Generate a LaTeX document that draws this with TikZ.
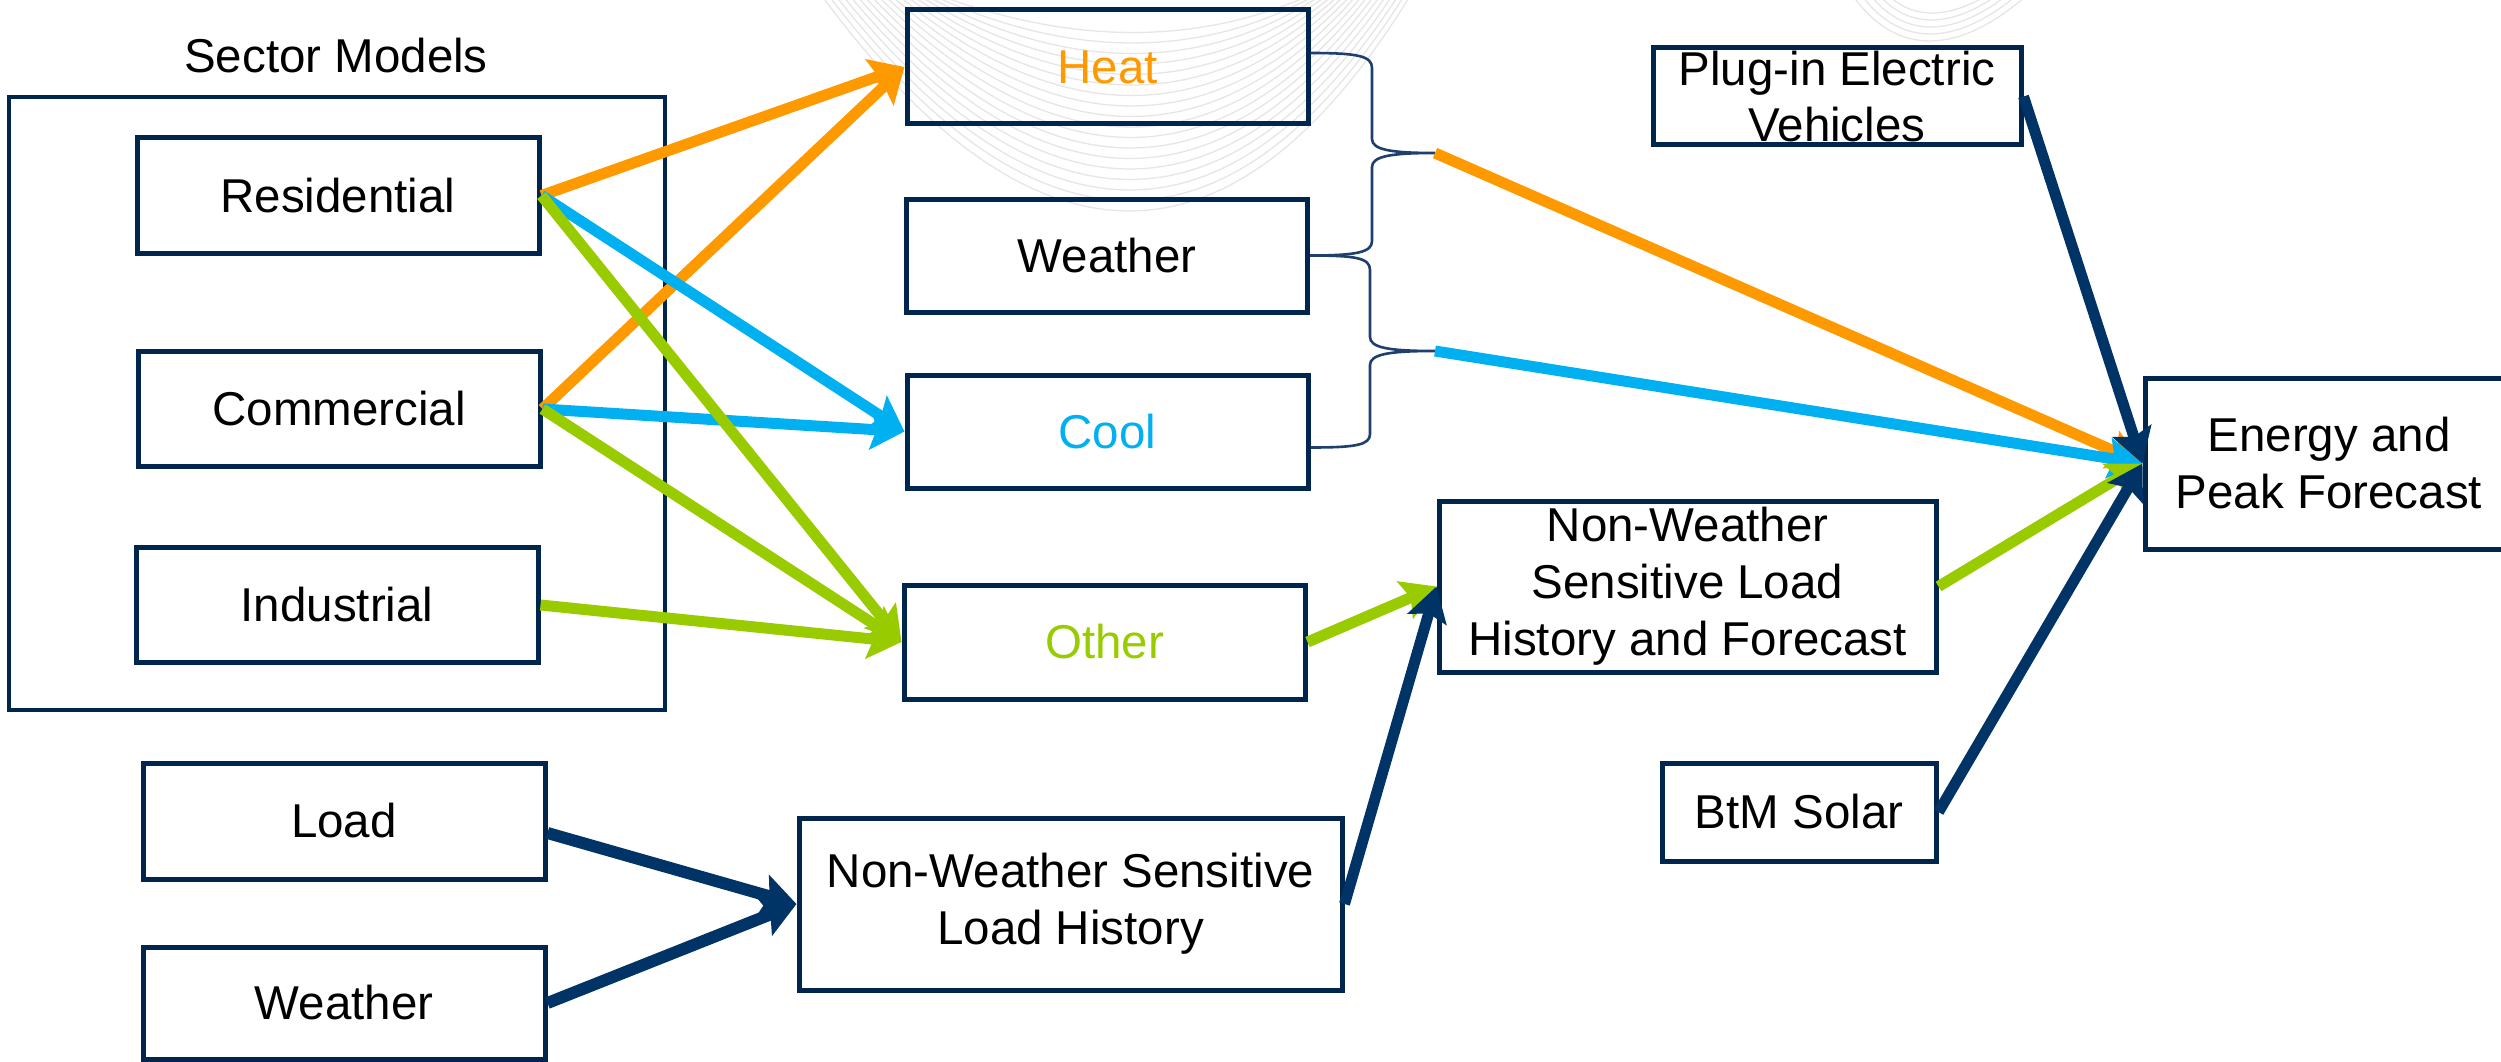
\documentclass[tikz,border=0pt]{standalone}
\usepackage{fontspec}
\setmainfont{Liberation Sans}
\usetikzlibrary{arrows.meta,calc}

\definecolor{boxnavy}{HTML}{00264D}
\definecolor{arrnavy}{HTML}{003366}
\definecolor{bracenavy}{HTML}{1F3F6E}
\definecolor{heatorange}{HTML}{FF9900}
\definecolor{coolcyan}{HTML}{00B0F0}
\definecolor{othergreen}{HTML}{99CC00}
\definecolor{wavegray}{HTML}{E6E6E6}

\begin{document}
\begin{tikzpicture}[x=1pt,y=-1pt,
  font=\fontsize{47.5}{57}\selectfont,
  box/.style={draw=boxnavy, line width=5pt, rectangle, inner sep=0pt, align=center},
  smallbox/.style={box, minimum width=402pt, minimum height=115pt},
  midbox/.style={box, minimum width=401pt, minimum height=114pt},
  flow/.style={line width=11pt, -{Stealth[length=34pt,width=40pt,inset=6pt]}},
  heatflow/.style={flow, draw=heatorange},
  coolflow/.style={flow, draw=coolcyan},
  otherflow/.style={flow, draw=othergreen},
  navyflow/.style={flow, draw=arrnavy},
  bracket/.style={draw=bracenavy, line width=2.6pt},
  wave/.style={draw=wavegray, line width=1.3pt}
]
\useasboundingbox (0,0) rectangle (2501,1062);
\fill[white] (0,0) rectangle (2501,1062);

% faint decorative waves behind the upper boxes
\foreach \i in {0,...,17}{
  \pgfmathsetmacro{\wl}{822+7*\i}
  \pgfmathsetmacro{\wr}{1410-6*\i}
  \pgfmathsetmacro{\wc}{1.333*(212-10.5*\i)}
  \pgfmathsetmacro{\wa}{\wl+0.36*(\wr-\wl)}
  \pgfmathsetmacro{\wb}{\wr-0.30*(\wr-\wl)}
  \draw[wave] (\wl,-4) .. controls (\wa,\wc) and (\wb,\wc) .. (\wr,-4);
}
\foreach \i in {0,...,4}{
  \pgfmathsetmacro{\wl}{1853+9*\i}
  \pgfmathsetmacro{\wr}{2026-10*\i}
  \pgfmathsetmacro{\wc}{1.333*(42-7*\i)}
  \pgfmathsetmacro{\wa}{\wl+0.25*(\wr-\wl)}
  \pgfmathsetmacro{\wb}{\wr-0.40*(\wr-\wl)}
  \draw[wave] (\wl,-4) .. controls (\wa,\wc) and (\wb,\wc) .. (\wr,-4);
}

% sector models group
\node (sectitle) at (336,56) {Sector Models};
\node[box, line width=4.5pt, minimum width=656pt, minimum height=613pt] (sector) at (337,403.5) {};
\node[smallbox] (res) at (338,195.5) {Residential};
\node[smallbox] (com) at (339,409) {Commercial};
\node[smallbox] (ind) at (337,605) {Industrial};

% end uses
\node[midbox, text=heatorange] (heat) at (1107.5,67) {Heat};
\node[midbox, minimum height=113pt] (wmid) at (1107,255.5) {Weather};
\node[midbox, minimum height=113pt, text=coolcyan] (cool) at (1107.5,431.5) {Cool};
\node[midbox, text=othergreen] (other) at (1104.5,642) {Other};

% load history inputs
\node[smallbox, minimum height=116pt] (load) at (344,821) {Load};
\node[smallbox, minimum height=112pt] (wlow) at (344,1003) {Weather};
\node[box, minimum width=543pt, minimum height=172pt] (nwslh) at (1070.5,904)
  {Non-Weather Sensitive\\Load History};
\node[box, minimum width=497pt, minimum height=171pt] (nwslhf) at (1687.5,586.5)
  {Non-Weather\\Sensitive Load\\History and Forecast};

% other forecast inputs
\node[box, minimum width=368pt, minimum height=97pt, font=\fontsize{47.5}{56}\selectfont] (pev) at (1837,96.5)
  {Plug-in Electric\\Vehicles};
\node[box, minimum width=274pt, minimum height=98pt] (btm) at (1799,812) {BtM Solar};
\node[box, minimum width=368pt, minimum height=171pt] (energy) at (2329,463.5)
  {Energy and\\Peak Forecast};

% brackets joining heat/weather and weather/cool
\coordinate (tipA) at (1435,153);
\coordinate (tipB) at (1435,351);
\draw[bracket] ([yshift=14pt]heat.east) .. controls (1358,53) and (1372,56) .. (1372,68)
  -- (1372,139) .. controls (1372,150) and (1392,153) .. (tipA)
  .. controls (1392,153) and (1372,156) .. (1372,167)
  -- (1372,241) .. controls (1372,252) and (1358,255.5) .. (wmid.east);
\draw[bracket] (wmid.east) .. controls (1356,255.5) and (1370,258) .. (1370,270)
  -- (1370,337) .. controls (1370,348) and (1390,351) .. (tipB)
  .. controls (1390,351) and (1370,354) .. (1370,365)
  -- (1370,434) .. controls (1370,445) and (1356,447.5) .. ([yshift=-16pt]cool.east);

% sector flows
\draw[heatflow] (res.east) -- (heat.west);
\draw[heatflow] (com.east) -- (heat.west);
\draw[coolflow] (res.east) -- (cool.west);
\draw[coolflow] (com.east) -- (cool.west);
\draw[otherflow] (res.east) -- (other.west);
\draw[otherflow] (com.east) -- (other.west);
\draw[otherflow] (ind.east) -- (other.west);
\draw[otherflow] (other.east) -- (nwslhf.west);

% load history flows
\draw[navyflow, line width=12pt] ([yshift=-12pt]load.east) -- (nwslh.west);
\draw[navyflow, line width=12pt] (wlow.east) -- (nwslh.west);
\draw[navyflow] (nwslh.east) -- (nwslhf.west);

% flows into the forecast
\draw[heatflow] (tipA) -- (energy.west);
\draw[coolflow] (tipB) -- (energy.west);
\draw[otherflow] (nwslhf.east) -- (energy.west);
\draw[navyflow] (pev.east) -- (energy.west);
\draw[navyflow] (btm.east) -- (energy.west);
\end{tikzpicture}
\end{document}
